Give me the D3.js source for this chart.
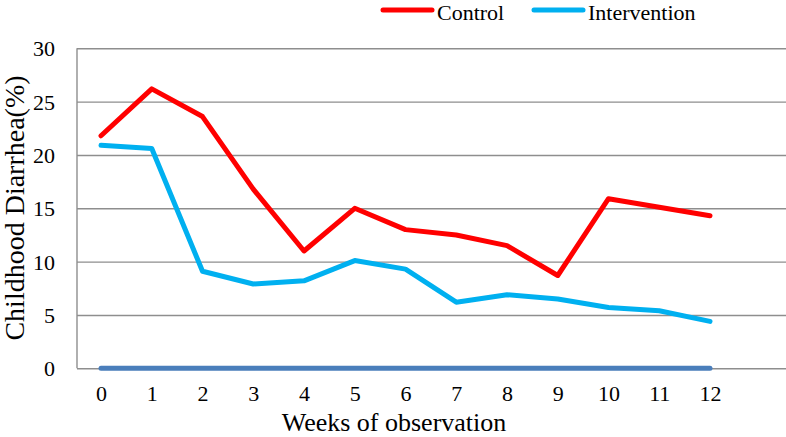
<!DOCTYPE html>
<html>
<head>
<meta charset="utf-8">
<script src="https://cdn.jsdelivr.net/npm/d3@7"></script>
<style>
html,body{margin:0;padding:0;background:#fff;}
svg{display:block;}
svg text{font-family:"Liberation Serif","Times New Roman",Times,"DejaVu Serif",serif !important;fill:#000;}
</style>
</head>
<body>
<svg id="chart" width="786" height="437"></svg>
<script>
const weeks = ["0","1","2","3","4","5","6","7","8","9","10","11","12"];
const control = [21.8, 26.2, 23.6, 16.8, 11.0, 15.0, 13.0, 12.5, 11.5, 8.7, 15.9, 15.1, 14.3];
const intervention = [20.9, 20.6, 9.1, 7.9, 8.2, 10.1, 9.3, 6.2, 6.9, 6.5, 5.7, 5.4, 4.4];
const baseline = [0,0,0,0,0,0,0,0,0,0,0,0,0];
const yTicks = [0, 5, 10, 15, 20, 25, 30];
const seriesNames = ["Control", "Intervention"];

const FONT = '"Liberation Serif","Times New Roman",Times,"DejaVu Serif",serif';
const svg = d3.select("#chart").attr("font-family", FONT);
const plotLeft = 77, plotRight = 786, plotTop = 48.3, plotBottom = 368.3;

const x = d3.scalePoint().domain(weeks).range([101, 710]).padding(0);
const y = d3.scaleLinear().domain([0, 30]).range([plotBottom, plotTop]);

// gridlines
const yAxis = d3.axisLeft(y).tickValues(yTicks).tickSize(-(plotRight - plotLeft)).tickPadding(22).tickFormat(d3.format("d"));
const gy = svg.append("g").attr("transform", `translate(${plotLeft},0)`).call(yAxis).attr("font-family", FONT);
gy.select(".domain").remove();
gy.selectAll(".tick line").attr("stroke", "#8e8e8e").attr("stroke-width", 1.4);
gy.selectAll(".tick text").attr("font-size", 22).attr("fill", "#000").attr("dy", "0.34em");

// vertical axis line
svg.append("line").attr("x1", plotLeft).attr("x2", plotLeft).attr("y1", plotTop).attr("y2", plotBottom)
  .attr("stroke", "#8e8e8e").attr("stroke-width", 1.4);

// x axis labels
const xAxis = d3.axisBottom(x).tickSize(0).tickPadding(17);
const gx = svg.append("g").attr("transform", `translate(0,${plotBottom})`).call(xAxis).attr("font-family", FONT);
gx.select(".domain").remove();
gx.selectAll(".tick text").attr("font-size", 22).attr("fill", "#000");

const line = d3.line().x((d, i) => x(weeks[i])).y(d => y(d));

svg.append("path").datum(baseline).attr("d", line).attr("fill", "none")
  .attr("stroke", "#4a7ebb").attr("stroke-width", 5).attr("stroke-linecap", "round");
svg.append("path").datum(intervention).attr("d", line).attr("fill", "none")
  .attr("stroke", "#00b0f0").attr("stroke-width", 5).attr("stroke-linecap", "round").attr("stroke-linejoin", "round");
svg.append("path").datum(control).attr("d", line).attr("fill", "none")
  .attr("stroke", "#ff0000").attr("stroke-width", 5).attr("stroke-linecap", "round").attr("stroke-linejoin", "round");

// axis titles
svg.append("text").attr("x", 394).attr("y", 431).attr("text-anchor", "middle").attr("font-size", 26).text("Weeks of observation");
svg.append("text").attr("transform", "translate(24,208) rotate(-90)").attr("text-anchor", "middle").attr("font-size", 28).text("Childhood Diarrhea(%)");

// legend
const legColors = ["#ff0000", "#00b0f0"];
const legX = [383, 534];
seriesNames.forEach((name, i) => {
  svg.append("line").attr("x1", legX[i]).attr("x2", legX[i] + 49).attr("y1", 10).attr("y2", 10)
    .attr("stroke", legColors[i]).attr("stroke-width", 5).attr("stroke-linecap", "round");
  svg.append("text").attr("x", legX[i] + 54).attr("y", 19.5).attr("font-size", 22).text(name);
});
</script>
</body>
</html>
